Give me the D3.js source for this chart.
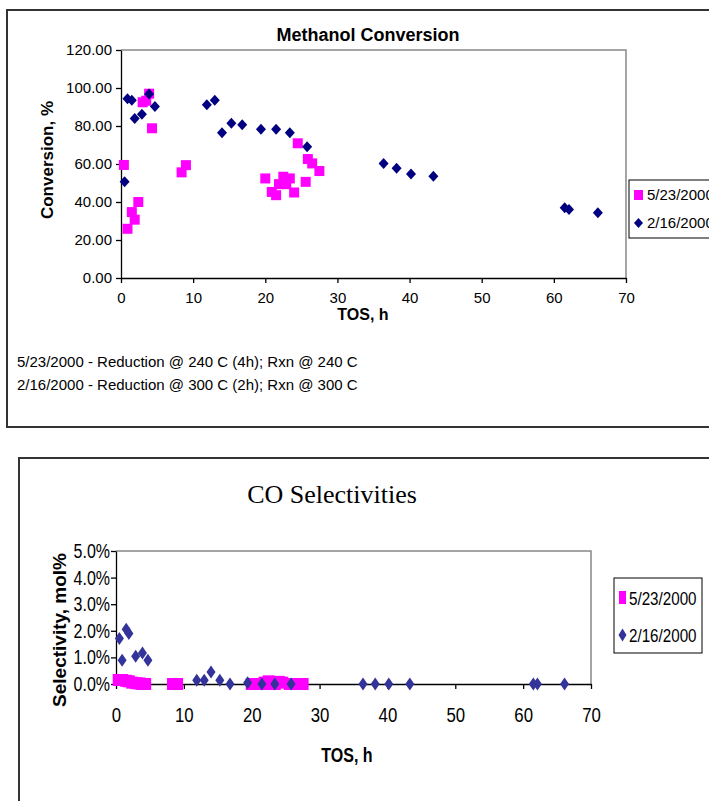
<!DOCTYPE html>
<html lang="en">
<head>
<meta charset="UTF-8">
<title>Methanol Conversion / CO Selectivities</title>
<script src="https://d3js.org/d3.v7.min.js"></script>
<style>
  body { margin: 0; background: #fff; }
  svg { display: block; }
  .ax path, .ax line { stroke: #000; }
</style>
</head>
<body>
<svg id="chart" width="709" height="801"></svg>
<script>
// series 5/23/2000 (pink squares)
const tosA = [0.4, 0.9, 1.5, 1.9, 2.4, 3.0, 3.5, 3.9, 4.3, 8.4, 9.0, 20.0, 20.9, 21.5, 21.9, 22.5, 22.9, 23.4, 24.0, 24.5, 25.6, 25.9, 26.5, 27.5];
const convA = [59.5, 25.9, 34.7, 30.7, 40.0, 92.5, 93.3, 97.0, 78.8, 55.6, 59.4, 52.4, 45.3, 43.6, 49.4, 53.3, 49.4, 52.4, 45.0, 70.9, 50.6, 62.6, 60.3, 56.3];
const selA = [0.15, 0.15, 0.12, 0.10, 0.05, 0.03, 0.02, 0.0, 0.0, 0.0, 0.0, 0.0, 0.0, 0.0, 0.05, 0.10, 0.0, 0.0, 0.08, 0.05, 0.0, 0.0, 0.0, 0.0];

// series 2/16/2000 (diamonds)
const tosB = [0.5, 0.9, 1.5, 1.9, 2.9, 3.9, 4.7, 11.9, 13.0, 14.0, 15.3, 16.8, 19.4, 21.5, 23.4, 25.8, 36.4, 38.2, 40.2, 43.3, 61.5, 62.1, 66.1];
const convB = [50.6, 94.4, 93.5, 84.0, 86.2, 96.8, 90.3, 91.2, 93.5, 76.5, 81.5, 80.6, 78.3, 78.3, 76.5, 69.1, 60.3, 57.8, 54.7, 53.6, 37.0, 36.1, 34.4];
const selB = [1.71, 0.89, 2.06, 1.90, 1.04, 1.17, 0.89, 0.14, 0.14, 0.45, 0.14, 0.0, 0.05, 0.0, 0.0, 0.0, 0.0, 0.0, 0.0, 0.0, 0.0, 0.0, 0.0];

const seriesNames = ["5/23/2000", "2/16/2000"];
const xTicks = [0, 10, 20, 30, 40, 50, 60, 70];
const convTicks = [0, 20, 40, 60, 80, 100, 120];
const selTicks = [0, 1, 2, 3, 4, 5];
const notes = [
  "5/23/2000 - Reduction @ 240 C (4h); Rxn @ 240 C",
  "2/16/2000 - Reduction @ 300 C (2h); Rxn @ 300 C"
];

const svg = d3.select("#chart");
const sans = "'Liberation Sans', Arial, sans-serif";
const diamond = (w, h) => `M0,${-h / 2}L${w / 2},0L0,${h / 2}L${-w / 2},0Z`;

// ---------- top chart: Methanol Conversion ----------
svg.append("rect")
  .attr("x", 7).attr("y", 10).attr("width", 720).attr("height", 417)
  .attr("fill", "none").attr("stroke", "#333").attr("stroke-width", 2);

const x1 = d3.scaleLinear().domain([0, 70]).range([121, 626]);
const y1 = d3.scaleLinear().domain([0, 120]).range([278, 50]);

const gTop = svg.append("g");

// plot area frame (gray top/right)
gTop.append("path")
  .attr("d", `M${x1(0)},${y1(120)}H${x1(70)}V${y1(0)}`)
  .attr("fill", "none").attr("stroke", "#888").attr("stroke-width", 1.5);

const gx1 = gTop.append("g").attr("class", "ax")
  .attr("transform", `translate(0,${y1(0)})`)
  .call(d3.axisBottom(x1).tickValues(xTicks).tickSize(5).tickSizeOuter(0));
gx1.selectAll("text").attr("font-family", sans).attr("font-size", 15).attr("dy", "1.15em").attr("fill", "#000");

const gy1 = gTop.append("g").attr("class", "ax")
  .attr("transform", `translate(${x1(0)},0)`)
  .call(d3.axisLeft(y1).tickValues(convTicks).tickFormat(d3.format(".2f")).tickSize(5).tickSizeOuter(0));
gy1.selectAll("text").attr("font-family", sans).attr("font-size", 15).attr("x", -9).attr("fill", "#000");

gTop.append("text")
  .attr("x", 368).attr("y", 41).attr("text-anchor", "middle")
  .attr("font-family", sans).attr("font-weight", "bold").attr("font-size", 18)
  .text("Methanol Conversion");

gTop.append("text")
  .attr("x", 363).attr("y", 320).attr("text-anchor", "middle")
  .attr("font-family", sans).attr("font-weight", "bold").attr("font-size", 16)
  .text("TOS, h");

gTop.append("text")
  .attr("transform", `translate(53,160) rotate(-90)`)
  .attr("text-anchor", "middle")
  .attr("font-family", sans).attr("font-weight", "bold").attr("font-size", 17)
  .text("Conversion, %");

gTop.selectAll(".ptA").data(d3.zip(tosA, convA)).enter().append("rect")
  .attr("x", d => x1(d[0]) - 5).attr("y", d => y1(d[1]) - 5)
  .attr("width", 10).attr("height", 10).attr("fill", "#ff00ff");

gTop.selectAll(".ptB").data(d3.zip(tosB, convB)).enter().append("path")
  .attr("transform", d => `translate(${x1(d[0])},${y1(d[1])})`)
  .attr("d", diamond(10, 11)).attr("fill", "#000080");

// legend
const lg1 = gTop.append("g");
lg1.append("rect").attr("x", 629).attr("y", 180).attr("width", 100).attr("height", 58)
  .attr("fill", "#fff").attr("stroke", "#000").attr("stroke-width", 1);
lg1.append("rect").attr("x", 634).attr("y", 190).attr("width", 9).attr("height", 10).attr("fill", "#ff00ff");
lg1.append("path").attr("transform", "translate(638.5,223)").attr("d", diamond(9, 10)).attr("fill", "#000080");
lg1.selectAll(".lt").data(seriesNames).enter().append("text")
  .attr("x", 647).attr("y", (d, i) => 200 + i * 28)
  .attr("font-family", sans).attr("font-size", 15).text(d => d);

// notes
gTop.selectAll(".note").data(notes).enter().append("text")
  .attr("x", 17).attr("y", (d, i) => 367 + i * 23)
  .attr("font-family", sans).attr("font-size", 15)
  .text(d => d);

// ---------- bottom chart: CO Selectivities ----------
svg.append("rect")
  .attr("x", 19).attr("y", 458).attr("width", 720).attr("height", 400)
  .attr("fill", "none").attr("stroke", "#333").attr("stroke-width", 2);

const x2 = d3.scaleLinear().domain([0, 70]).range([116, 591]);
const y2 = d3.scaleLinear().domain([0, 5]).range([684, 551]);
const gBot = svg.append("g");
const narrow = 0.8;

gBot.append("path")
  .attr("d", `M${x2(0)},${y2(5)}H${x2(70)}V${y2(0)}`)
  .attr("fill", "none").attr("stroke", "#888").attr("stroke-width", 1.5);

const gx2 = gBot.append("g").attr("class", "ax")
  .attr("transform", `translate(0,${y2(0)})`)
  .call(d3.axisBottom(x2).tickValues(xTicks).tickSize(5).tickSizeOuter(0));
gx2.selectAll("text").attr("font-family", sans).attr("font-size", 21).attr("fill", "#000")
  .attr("dy", "1.45em").attr("transform", `scale(${narrow},1)`);

const gy2 = gBot.append("g").attr("class", "ax")
  .attr("transform", `translate(${x2(0)},0)`)
  .call(d3.axisLeft(y2).tickValues(selTicks).tickFormat(d => d.toFixed(1) + "%").tickSize(5).tickSizeOuter(0));
gy2.selectAll("text").attr("font-family", sans).attr("font-size", 20).attr("fill", "#000")
  .attr("x", -6 / narrow).attr("transform", `scale(${narrow},1)`);
svg.selectAll(".ax path, .ax line").attr("stroke-width", 1.3);

gBot.append("text")
  .attr("x", 332).attr("y", 503).attr("text-anchor", "middle")
  .attr("font-family", "'Liberation Serif', 'Times New Roman', serif").attr("font-size", 26)
  .text("CO Selectivities");

gBot.append("text")
  .attr("transform", `translate(347,762) scale(${narrow},1)`)
  .attr("text-anchor", "middle")
  .attr("font-family", sans).attr("font-weight", "bold").attr("font-size", 20)
  .text("TOS, h");

gBot.append("text")
  .attr("transform", `translate(66,630) rotate(-90)`)
  .attr("text-anchor", "middle")
  .attr("font-family", sans).attr("font-weight", "bold").attr("font-size", 19)
  .text("Selectivity, mol%");

gBot.selectAll(".ptA2").data(d3.zip(tosA, selA)).enter().append("rect")
  .attr("x", d => x2(d[0]) - 6).attr("y", d => y2(d[1]) - 6)
  .attr("width", 12).attr("height", 12).attr("fill", "#ff00ff");

gBot.selectAll(".ptB2").data(d3.zip(tosB, selB)).enter().append("path")
  .attr("transform", d => `translate(${x2(d[0])},${y2(d[1])})`)
  .attr("d", diamond(9, 13)).attr("fill", "#333399");

const lg2 = gBot.append("g");
lg2.append("rect").attr("x", 614).attr("y", 578).attr("width", 88).attr("height", 75)
  .attr("fill", "#fff").attr("stroke", "#000").attr("stroke-width", 1);
lg2.append("rect").attr("x", 619).attr("y", 591).attr("width", 7).attr("height", 13).attr("fill", "#ff00ff");
lg2.append("path").attr("transform", "translate(622.5,635)").attr("d", diamond(8, 13)).attr("fill", "#333399");
lg2.selectAll(".lt").data(seriesNames).enter().append("text")
  .attr("transform", (d, i) => `translate(629,${605 + i * 37}) scale(${narrow},1)`)
  .attr("font-family", sans).attr("font-size", 19).text(d => d);
</script>
</body>
</html>
